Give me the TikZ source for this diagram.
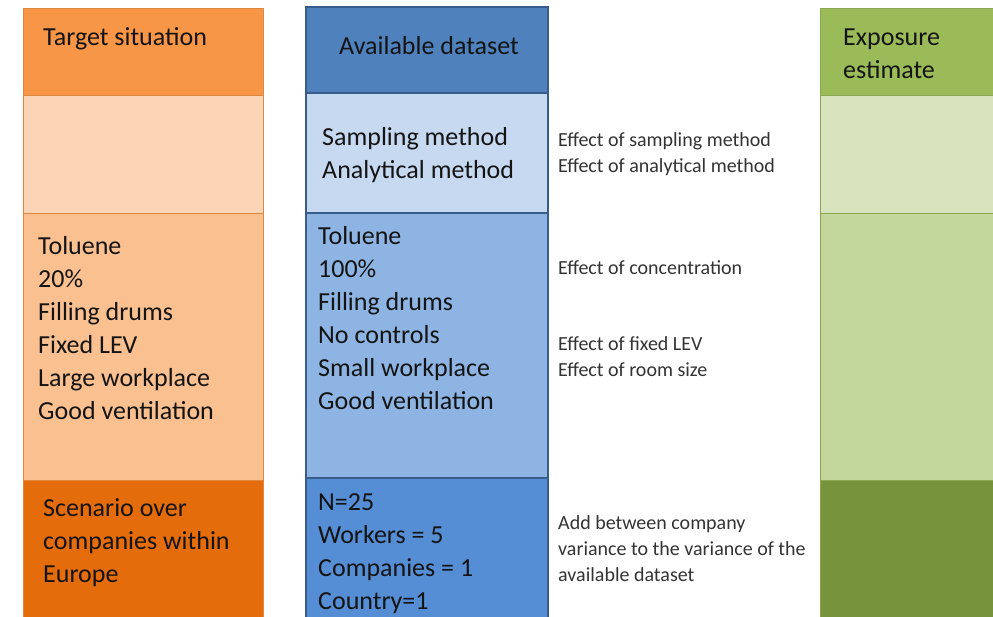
\documentclass[tikz,border=0pt]{standalone}
\usepackage{fontspec}
\setmainfont{Carlito}
\usepackage{xcolor}
\usepackage{tikz}
\usetikzlibrary{positioning}

\definecolor{orHead}{HTML}{F79646}
\definecolor{orLight}{HTML}{FBD5B5}
\definecolor{orMid}{HTML}{FAC090}
\definecolor{orDark}{HTML}{E46C0A}
\definecolor{blHead}{HTML}{4F81BD}
\definecolor{blLight}{HTML}{C6D9F1}
\definecolor{blMid}{HTML}{8EB4E3}
\definecolor{blDark}{HTML}{558ED5}
\definecolor{blLine}{HTML}{385D8A}
\definecolor{grHead}{HTML}{9BBB59}
\definecolor{grLight}{HTML}{D7E4BD}
\definecolor{grMid}{HTML}{C3D69B}
\definecolor{grDark}{HTML}{77933C}
\definecolor{txt}{HTML}{141414}

\begin{document}
\begin{tikzpicture}
		[x=1pt,y=-1pt,
		every node/.style={inner sep=0pt,text=txt},
		big/.style={anchor=base west,align=left,font=\fontsize{26}{33}\selectfont},
		small/.style={anchor=base west,align=left,font=\fontsize{20}{26}\selectfont,text=black!80},
		orbox/.style={draw=orHead!90!black,line width=1pt},
		blbox/.style={draw=blLine,line width=1.2pt},
		grbox/.style={draw=grHead!90!black,line width=0.8pt}]
		\useasboundingbox (0,0) rectangle (993,616);
		% target situation
		\filldraw[orbox,fill=orHead] (23,8) rectangle (263,95);
		\filldraw[orbox,fill=orLight] (23,95) rectangle (263,213);
		\filldraw[orbox,fill=orMid] (23,213) rectangle (263,480);
		\filldraw[orbox,fill=orDark] (23,480) rectangle (263,620);
		% available dataset
		\filldraw[blbox,fill=blHead] (306,7) rectangle (548,93);
		\filldraw[blbox,fill=blLight] (306,93) rectangle (548,213);
		\filldraw[blbox,fill=blMid] (306,213) rectangle (548,478);
		\filldraw[blbox,fill=blDark] (306,478) rectangle (548,620);
		% exposure estimate
		\filldraw[grbox,fill=grHead] (820,8) rectangle (1000,95);
		\filldraw[grbox,fill=grLight] (820,95) rectangle (1000,213);
		\filldraw[grbox,fill=grMid] (820,213) rectangle (1000,480);
		\filldraw[grbox,fill=grDark] (820,480) rectangle (1000,620);

		% text (anchored at the baseline of the last line)
		\node[big] (target) at (43,45) {Target situation};
		\node[big] (tsit) at (38,419) {Toluene\\20\%\\Filling drums\\Fixed LEV\\Large workplace\\Good ventilation};
		\node[big] (tscen) at (43,582) {Scenario over\\companies within\\Europe};

		\node[big] (avail) at (339,54) {Available dataset};
		\node[big] (ameth) at (322,178) {Sampling method\\Analytical method};
		\node[big] (asit) at (318,409) {Toluene\\100\%\\Filling drums\\No controls\\Small workplace\\Good ventilation};
		\node[big] (acount) at (318,609) {N=25\\Workers = 5\\Companies = 1\\Country=1};

		\node[big] (expo) at (843,78) {Exposure\\estimate};

		\node[small] (emeth) at (558,172) {Effect of sampling method\\Effect of analytical method};
		\node[small] (econc) at (558,274) {Effect of concentration};
		\node[small] (elev) at (558,376) {Effect of fixed LEV\\Effect of room size};
		\node[small] (evar) at (558,581) {Add between company\\variance to the variance of the\\available dataset};
\end{tikzpicture}
\end{document}
